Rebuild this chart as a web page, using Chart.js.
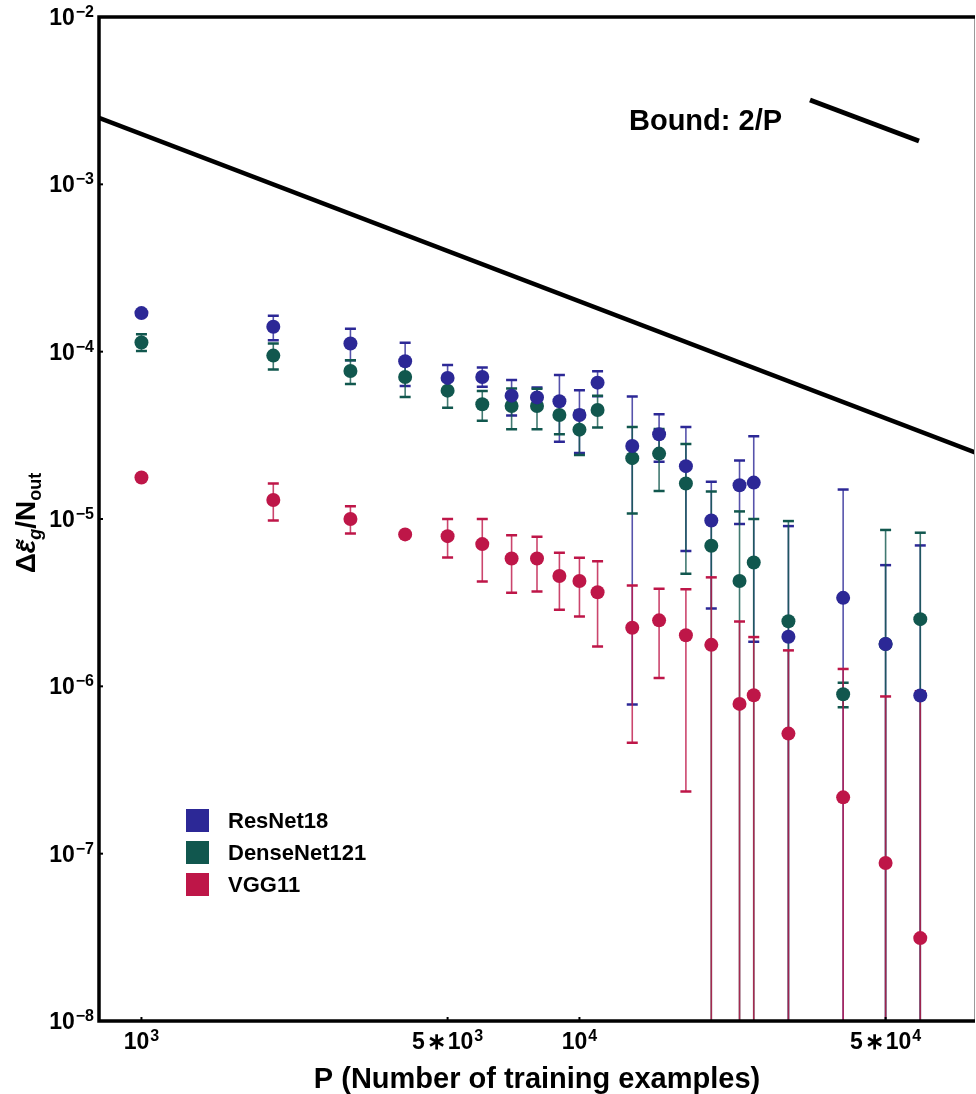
<!DOCTYPE html>
<html>
<head>
<meta charset="utf-8">
<script src="https://cdn.jsdelivr.net/npm/chart.js@4.4.1/dist/chart.umd.min.js"></script>
<style>
  html, body { margin: 0; padding: 0; background: #fff; overflow: hidden; }
  #chart { display: block; }
</style>
</head>
<body>
<canvas id="chart" width="976" height="1094"></canvas>
<script>
// P: number of training examples (x positions)
const P = [1000, 2000, 3000, 4000, 5000, 6000, 7000, 8000, 9000, 10000, 11000,
           13200, 15200, 17500, 20000, 23200, 25000, 30000, 40000, 50000, 60000];

// valores y barras de error (0 = la barra baja hasta el eje)
const resnet = [1.70e-4, 1.41e-4, 1.12e-4, 8.77e-5, 6.97e-5, 7.06e-5, 5.46e-5, 5.33e-5, 5.05e-5, 4.18e-5, 6.53e-5,
                2.73e-5, 3.21e-5, 2.07e-5, 9.8e-6, 1.59e-5, 1.65e-5, 1.98e-6, 3.38e-6, 1.79e-6, 8.81e-7];
const resnetLow = [1.65e-4, 1.17e-4, 8.89e-5, 6.24e-5, 5.69e-5, 6.18e-5, 4.15e-5, 4.6e-5, 2.9e-5, 2.48e-5, 5.41e-5,
                   7.8e-7, 2.2e-5, 6.43e-6, 2.92e-6, 9.32e-6, 1.85e-6, 0, 0, 0, 0];
const resnetHigh = [1.75e-4, 1.64e-4, 1.37e-4, 1.13e-4, 8.33e-5, 8.03e-5, 6.77e-5, 6.1e-5, 7.26e-5, 5.88e-5, 7.63e-5,
                    5.39e-5, 4.22e-5, 3.55e-5, 1.67e-5, 2.24e-5, 3.12e-5, 9.07e-6, 1.5e-5, 5.3e-6, 6.95e-6];

const densenet = [1.134e-4, 9.47e-5, 7.67e-5, 7.06e-5, 5.85e-5, 4.85e-5, 4.73e-5, 4.73e-5, 4.18e-5, 3.42e-5, 4.48e-5,
                  2.31e-5, 2.46e-5, 1.63e-5, 6.92e-6, 4.26e-6, 5.5e-6, 2.45e-6, 8.97e-7, 1.79e-6, 2.52e-6];
const densenetLow = [1.01e-4, 7.82e-5, 6.41e-5, 5.36e-5, 4.63e-5, 3.87e-5, 3.44e-5, 3.44e-5, 3.21e-5, 2.41e-5, 3.52e-5,
                     1.08e-5, 1.47e-5, 4.71e-6, 0, 0, 0, 0, 7.5e-7, 0, 0];
const densenetHigh = [1.27e-4, 1.12e-4, 8.9e-5, 8.76e-5, 7.07e-5, 5.82e-5, 6.02e-5, 6.0e-5, 5.15e-5, 4.43e-5, 5.45e-5,
                      3.55e-5, 3.45e-5, 2.81e-5, 1.46e-5, 1.11e-5, 1.0e-5, 9.72e-6, 1.05e-6, 8.6e-6, 8.28e-6];

const vgg = [1.77e-5, 1.30e-5, 1.0e-5, 8.09e-6, 7.9e-6, 7.08e-6, 5.81e-6, 5.81e-6, 4.56e-6, 4.26e-6, 3.65e-6,
             2.24e-6, 2.48e-6, 2.02e-6, 1.77e-6, 7.85e-7, 8.85e-7, 5.22e-7, 2.17e-7, 8.8e-8, 3.13e-8];
const vggLow = [1.72e-5, 9.8e-6, 8.2e-6, 7.9e-6, 5.89e-6, 4.23e-6, 3.62e-6, 3.69e-6, 2.87e-6, 2.61e-6, 1.73e-6,
                4.6e-7, 1.12e-6, 2.35e-7, 0, 0, 0, 0, 0, 0, 0];
const vggHigh = [1.82e-5, 1.63e-5, 1.19e-5, 8.3e-6, 1.0e-5, 1.0e-5, 8.01e-6, 7.83e-6, 6.29e-6, 5.87e-6, 5.6e-6,
                 4.01e-6, 3.83e-6, 3.81e-6, 4.48e-6, 2.44e-6, 1.97e-6, 1.64e-6, 1.27e-6, 8.7e-7, 9.35e-7];

// cota 2/P en los extremos del eje
const boundX = [800, 80000];
const boundY = [2.5e-3, 2.5e-5];

// ticks
const yTicks = [1e-8, 1e-7, 1e-6, 1e-5, 1e-4, 1e-3, 1e-2];
const yTickExp = ["\u22128", "\u22127", "\u22126", "\u22125", "\u22124", "\u22123", "\u22122"];
const xTicks = [1000, 5000, 10000, 50000];
const xTickBase = ["10", "5\u200A\u2217\u200A10", "10", "5\u200A\u2217\u200A10"];
const xTickExp = ["3", "3", "4", "4"];

const COLORS = { resnet: "#2c2896", densenet: "#11574e", vgg: "#be1648" };
const FONT = '"Liberation Sans", Arial, Helvetica, sans-serif';

const pts = (arr) => arr.map((v, i) => ({ x: P[i], y: v }));

const serie = (label, values, low, high, color) => ({
  type: "scatter",
  label,
  data: pts(values),
  errLow: low,
  errHigh: high,
  backgroundColor: color,
  borderWidth: 0,
  pointRadius: 7,
  pointHoverRadius: 7,
});

// --- barras de error, por debajo de los puntos (VGG encima) ---
const errorBars = {
  id: "errorBars",
  beforeDatasetsDraw(chart) {
    const { ctx, chartArea: a, scales: { x, y } } = chart;
    ctx.save();
    ctx.beginPath();
    ctx.rect(a.left, a.top, a.right - a.left, a.bottom - a.top);
    ctx.clip();
    chart.data.datasets.forEach((ds) => {
      if (!ds.errLow) return;
      ctx.strokeStyle = ds.backgroundColor;
      ds.errLow.forEach((lo, j) => {
        const px = x.getPixelForValue(P[j]);
        const yTop = y.getPixelForValue(ds.errHigh[j]);
        const yBot = lo > 0 ? y.getPixelForValue(lo) : a.bottom + 10;
        ctx.globalAlpha = 0.8;
        ctx.lineWidth = 1.6;
        ctx.beginPath();
        ctx.moveTo(px, yTop);
        ctx.lineTo(px, yBot);
        ctx.stroke();
        ctx.globalAlpha = 1;
        ctx.lineWidth = 2.5;
        ctx.beginPath();
        ctx.moveTo(px - 5.5, yTop);
        ctx.lineTo(px + 5.5, yTop);
        if (lo > 0) {
          ctx.moveTo(px - 5.5, yBot);
          ctx.lineTo(px + 5.5, yBot);
        }
        ctx.stroke();
      });
    });
    ctx.restore();
  },
};

function supText(ctx, base, exp, xPos, baseY, align, size, supSize, rise) {
  ctx.font = `bold ${size}px ${FONT}`;
  const w1 = ctx.measureText(base).width;
  ctx.font = `bold ${supSize}px ${FONT}`;
  const w2 = ctx.measureText(exp).width;
  const total = w1 + 1 + w2;
  const x0 = align === "right" ? xPos - total : xPos - total / 2;
  ctx.textAlign = "left";
  ctx.textBaseline = "alphabetic";
  ctx.font = `bold ${size}px ${FONT}`;
  ctx.fillText(base, x0, baseY);
  ctx.font = `bold ${supSize}px ${FONT}`;
  ctx.fillText(exp, x0 + w1 + 1, baseY - rise);
}

// --- marco, ticks, etiquetas, títulos y leyenda ---
const decor = {
  id: "decor",
  afterDraw(chart) {
    const { ctx, chartArea: a, scales: { x, y } } = chart;
    ctx.save();
    ctx.fillStyle = "#000";

    // marco
    ctx.strokeStyle = "#9a9a9a";
    ctx.lineWidth = 1;
    ctx.beginPath();
    ctx.moveTo(a.right - 0.5, a.top);
    ctx.lineTo(a.right - 0.5, a.bottom);
    ctx.stroke();
    ctx.strokeStyle = "#000";
    ctx.lineWidth = 3.5;
    ctx.beginPath();
    ctx.moveTo(a.right, a.top);
    ctx.lineTo(a.left, a.top);
    ctx.lineTo(a.left, a.bottom);
    ctx.lineTo(a.right, a.bottom);
    ctx.stroke();

    // ticks y etiquetas
    ctx.lineWidth = 2;
    yTicks.forEach((v, i) => {
      const py = y.getPixelForValue(v);
      ctx.beginPath();
      ctx.moveTo(a.left, py);
      ctx.lineTo(a.left + 4, py);
      ctx.stroke();
      supText(ctx, "10", yTickExp[i], a.left - 5, py + 8, "right", 23, 16, 8);
    });
    xTicks.forEach((v, i) => {
      const px = x.getPixelForValue(v);
      ctx.beginPath();
      ctx.moveTo(px, a.bottom);
      ctx.lineTo(px, a.bottom - 4);
      ctx.stroke();
      supText(ctx, xTickBase[i], xTickExp[i], px, a.bottom + 28, "center", 23, 16, 8);
    });

    // título eje x
    ctx.font = `bold 29px ${FONT}`;
    ctx.textAlign = "center";
    ctx.fillText("P (Number of training examples)", (a.left + a.right) / 2, a.bottom + 67);

    // título eje y (rotado)
    const parts = [
      { t: "\u0394", f: `bold 28px ${FONT}`, dy: 0 },
      { t: "\u03B5", f: `italic bold 28px ${FONT}`, dy: 0, tilde: true },
      { t: "g", f: `italic bold 18px ${FONT}`, dy: 6 },
      { t: "/N", f: `bold 28px ${FONT}`, dy: 0 },
      { t: "out", f: `bold 18px ${FONT}`, dy: 6 },
    ];
    let total = 0;
    parts.forEach((p) => { ctx.font = p.f; p.w = ctx.measureText(p.t).width; total += p.w; });
    ctx.save();
    ctx.translate(25, (a.top + a.bottom) / 2 + 4);
    ctx.rotate(-Math.PI / 2);
    ctx.textAlign = "left";
    let cx = -total / 2;
    parts.forEach((p) => {
      ctx.font = p.f;
      ctx.fillText(p.t, cx, 10 + p.dy);
      if (p.tilde) {
        ctx.font = `bold 26px ${FONT}`;
        ctx.textAlign = "center";
        ctx.fillText("\u02DC", cx + p.w / 2 + 2, 10);
        ctx.textAlign = "left";
      }
      cx += p.w;
    });
    ctx.restore();

    // leyenda de la cota
    ctx.font = `bold 29px ${FONT}`;
    ctx.textAlign = "left";
    ctx.fillText("Bound: 2/P", a.left + 530, a.top + 113);
    ctx.lineWidth = 5;
    ctx.beginPath();
    ctx.moveTo(a.left + 711, a.top + 83);
    ctx.lineTo(a.left + 820, a.top + 124);
    ctx.stroke();

    // leyenda de modelos
    ctx.font = `bold 22px ${FONT}`;
    chart.data.datasets.forEach((ds, i) => {
      if (!ds.errLow) return;
      const top = a.bottom - 212 + i * 32;
      ctx.fillStyle = ds.backgroundColor;
      ctx.fillRect(a.left + 87, top, 23, 23);
      ctx.fillStyle = "#000";
      ctx.fillText(ds.label, a.left + 129, top + 19);
    });
    ctx.restore();
  },
};

new Chart(document.getElementById("chart"), {
  data: {
    datasets: [
      serie("ResNet18", resnet, resnetLow, resnetHigh, COLORS.resnet),
      serie("DenseNet121", densenet, densenetLow, densenetHigh, COLORS.densenet),
      serie("VGG11", vgg, vggLow, vggHigh, COLORS.vgg),
      {
        type: "line",
        label: "Bound: 2/P",
        data: boundX.map((v, i) => ({ x: v, y: boundY[i] })),
        borderColor: "#000",
        borderWidth: 4.5,
        pointRadius: 0,
        fill: false,
      },
    ],
  },
  options: {
    responsive: false,
    animation: false,
    devicePixelRatio: 1,
    layout: { autoPadding: false, padding: { left: 99, top: 17, right: 1, bottom: 73 } },
    plugins: { legend: { display: false }, tooltip: { enabled: false } },
    scales: {
      x: { type: "logarithmic", min: 800, max: 80000, display: false },
      y: { type: "logarithmic", min: 1e-8, max: 1e-2, display: false },
    },
  },
  plugins: [errorBars, decor],
});
</script>
</body>
</html>
